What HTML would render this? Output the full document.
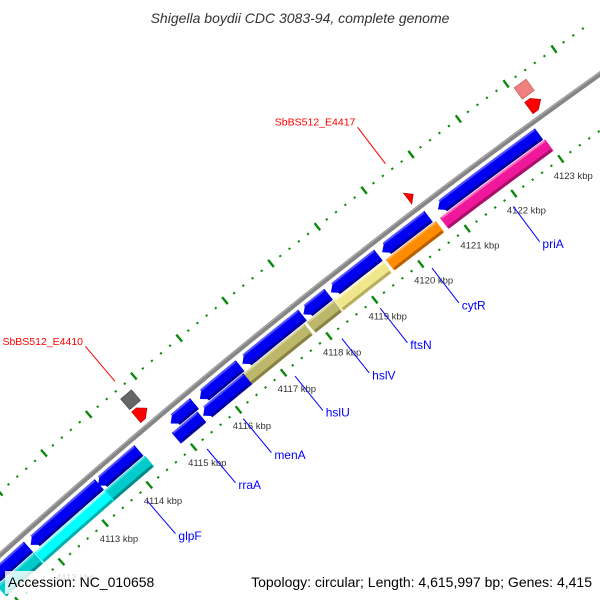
<!DOCTYPE html>
<html><head><meta charset="utf-8"><style>
html,body{margin:0;padding:0;background:#fff;overflow:hidden;}
svg{display:block;}
text{font-family:"Liberation Sans",sans-serif;}
</style></head><body>
<svg id="chart" width="600" height="600" viewBox="0 0 600 600" xmlns="http://www.w3.org/2000/svg">
<defs><clipPath id="frame"><rect x="0" y="0" width="600" height="600"/></clipPath></defs>
<text x="300" y="23" text-anchor="middle" font-size="14" font-style="italic" fill="#333">Shigella boydii CDC 3083-94, complete genome</text>
<g id="plot" clip-path="url(#frame)"></g>
<rect x="5" y="571" width="146" height="23" fill="#fff" fill-opacity="0.82"/>
<text x="8" y="587" font-size="14" fill="#000">Accession: NC_010658</text>
<rect x="258" y="571" width="338" height="23" fill="#fff" fill-opacity="0.82"/>
<text x="592" y="587" text-anchor="end" font-size="14" fill="#000">Topology: circular; Length: 4,615,997 bp; Genes: 4,415</text>
</svg>
<script>
// ---- data (kbp) ----
const geneNames   = ["A","B","C","D","E","F","G","H","I","J","priA","cytR","ftsN","hslV","hslU","menA","rraA","glpF","cyanB","cyanC"];
const geneStarts  = [4120.80,4119.60,4118.49,4117.89,4116.55,4115.61,4114.96,4113.33,4111.80,4110.9,4120.74,4119.57,4118.45,4117.85,4116.43,4115.47,4114.87,4113.32,4111.76,4110.9];
const geneEnds    = [4122.95,4120.60,4119.52,4118.44,4117.87,4116.50,4115.49,4114.25,4113.36,4111.75,4122.98,4120.65,4119.52,4118.44,4117.80,4116.46,4115.44,4114.27,4113.37,4111.75];
const geneTracks  = [1,1,1,1,1,1,1,1,1,1,2,2,2,2,2,2,2,2,2,2];
const geneStrands = [-1,-1,-1,-1,-1,-1,-1,-1,-1,-1,0,0,0,0,0,-1,0,0,0,0];
const geneKinds   = ["blue","blue","blue","blue","blue","blue","blue","blue","blue","blue","pink","orange","yellow","khaki","khaki","blue","blue","teal","cyan","teal"];
const labeledGenes = ["priA","cytR","ftsN","hslV","hslU","menA","rraA","glpF"];
const featNames  = ["SbBS512_E4417","E4417b","E4417c","SbBS512_E4410","E4410b"];
const featStarts = [4120.50,4123.07,4123.07,4114.58,4114.58];
const featEnds   = [4120.62,4123.32,4123.32,4114.82,4114.82];
const featKinds  = ["redArrow","redArrow","pinkBox","grayBox","redArrow"];
const featLabels = ["SbBS512_E4417","","","SbBS512_E4410",""];
const tickStart = 4109.8, tickEnd = 4124.6;

// ---- geometry ----
const CX=4496, CY=5549.4;
const R_BACK=6720, R_T1=6707, R_T2=6692, HW=7, R_IN=6674, R_OUT=6767;
function ang(k){return (-131.14+(k-4113)*0.501)*Math.PI/180;}
function pt(k,r){const a=ang(k);return [CX+r*Math.cos(a),CY+r*Math.sin(a)];}
function f(p){return p[0].toFixed(2)+","+p[1].toFixed(2);}
const NS="http://www.w3.org/2000/svg";
const plot=document.getElementById("plot");
function mk(tag,attrs){const e=document.createElementNS(NS,tag);for(const k in attrs)e.setAttribute(k,attrs[k]);plot.appendChild(e);return e;}
function arcPath(k1,k2,r){return "M"+f(pt(k1,r))+" A"+r+","+r+" 0 0 1 "+f(pt(k2,r));}

// ticks
for(let i=Math.round(tickStart*5);i<=Math.round(tickEnd*5);i++){
  const k=i/5, major=(i%5===0);
  [R_IN,R_OUT].forEach(function(r,ri){
    const L=major?4.5:1;
    const l=mk("line",{x1:pt(k,r-L)[0],y1:pt(k,r-L)[1],x2:pt(k,r+L)[0],y2:pt(k,r+L)[1],stroke:"#0a8a0a","stroke-width":major?2.4:2.2});
    
    
  });
  if(major){
    const p=pt(k,6653);
    const t=mk("text",{x:p[0],y:p[1]+3,"text-anchor":"middle","font-size":"9.5",fill:"#333"});
    t.textContent=k+" kbp";
    
    
  }
}

// backbone
const bb=mk("path",{d:arcPath(4109.5,4125,R_BACK),fill:"none",stroke:"#858585","stroke-width":5});


const bb2=mk("path",{d:arcPath(4109.5,4125,R_BACK+1.5),fill:"none",stroke:"#b0b0b0","stroke-width":1});



const colors={blue:["#0000f0","#5050ff","#0000a0"],pink:["#f0189a","#ff6cc0","#a80f68"],orange:["#ff8c00","#ffb050","#b86000"],
  yellow:["#f0e68c","#fbf5c0","#b8ae60"],khaki:["#bdb76b","#d8d39a","#888244"],cyan:["#00ffff","#90ffff","#00b0b0"],teal:["#00cccc","#40e0e0","#008c8c"],
  red:["#ff0000","#ff6060","#b00000"],pinkBox:["#f08080","#f8b0b0","#c05050"],grayBox:["#666","#999","#444"]};

function shape(k1,k2,rc,hw,strand){
  const h=0.136;
  let a=k1,b=k2;
  if(strand===-1)a=Math.min(k1+h,k2);
  if(strand===1)b=Math.max(k2-h,k1);
  const ro=rc+hw, ri=rc-hw;
  let d="M"+f(pt(a,ro))+" A"+ro+","+ro+" 0 0 1 "+f(pt(b,ro));
  if(strand===1)d+=" L"+f(pt(k2,rc));
  d+=" L"+f(pt(b,ri))+" A"+ri+","+ri+" 0 0 0 "+f(pt(a,ri));
  if(strand===-1)d+=" L"+f(pt(k1,rc));
  return d+" Z";
}

// genes
for(let i=0;i<geneNames.length;i++){
  const rc=geneTracks[i]===1?R_T1:R_T2;
  const c=colors[geneKinds[i]];
  const g=mk("path",{d:shape(geneStarts[i],geneEnds[i],rc,HW,geneStrands[i]),fill:c[0]});
  
  
  const a=geneStarts[i]+(geneStrands[i]===-1?0.1:0.02), b=geneEnds[i]-0.02;
  const hi=mk("path",{d:arcPath(a,b,rc+HW-1),fill:"none",stroke:c[1],"stroke-width":2});
  
  
  const sh=mk("path",{d:arcPath(a,b,rc-HW+1.5),fill:"none",stroke:c[2],"stroke-width":3});
  
  
  if(labeledGenes.indexOf(geneNames[i])>=0){
    const m=(geneStarts[i]+geneEnds[i])/2;
    const p1=pt(m,6664),p2=pt(m,6620),p3=pt(m,6617);
    const ln=mk("line",{x1:p1[0],y1:p1[1],x2:p2[0],y2:p2[1],stroke:"#0000ff","stroke-width":1});
    
    
    const t=mk("text",{x:p3[0]+1,y:p3[1]+4,"font-size":"12",fill:"#0000ff"});
    t.textContent=geneNames[i];
    
    
  }
}

// features above backbone
for(let i=0;i<featNames.length;i++){
  const kind=featKinds[i];
  let rc=6734, c=colors.red, strand=1;
  if(kind==="pinkBox"){rc=6752;c=colors.pinkBox;strand=0;}
  if(kind==="grayBox"){rc=6751;c=colors.grayBox;strand=0;}
  const e=mk("path",{d:shape(featStarts[i],featEnds[i],rc,7,strand),fill:c[0],stroke:c[2],"stroke-width":0.6});
  
  
  if(featLabels[i]){
    const m=(featStarts[i]+featEnds[i])/2;
    const p1=pt(m,6775),p2=pt(m,6821),p3=pt(m,6823);
    const ln=mk("line",{x1:p1[0],y1:p1[1],x2:p2[0],y2:p2[1],stroke:"#ff0000","stroke-width":1});
    
    
    const t=mk("text",{x:p3[0]-1,y:p3[1],"text-anchor":"end","font-size":"10.5",fill:"#ff0000"});
    t.textContent=featLabels[i];
    
    
  }
}
</script>
</body></html>
